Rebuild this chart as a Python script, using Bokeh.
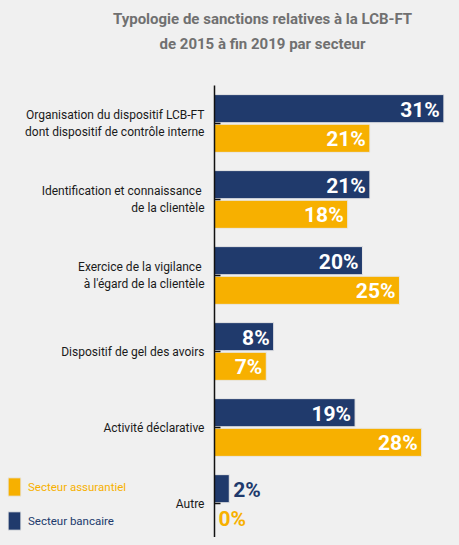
from bokeh.plotting import figure
from bokeh.models import ColumnDataSource, Range1d, FixedTicker, Label, Legend, LegendItem, LinearAxis
from bokeh.transform import dodge
from bokeh.core.properties import value
from bokeh.embed import file_html
from bokeh.resources import INLINE

# ---- data ----
categories = [
    "Organisation du dispositif LCB-FT\ndont dispositif de contrôle interne",
    "Identification et connaissance \nde la clientèle",
    "Exercice de la vigilance \nà l'égard de la clientèle",
    "Dispositif de gel des avoirs",
    "Activité déclarative",
    "Autre",
]
bancaire = [31, 21, 20, 8, 19, 2]
assurantiel = [21, 18, 25, 7, 28, 0]
series_names = ["Secteur bancaire", "Secteur assurantiel"]
title_lines = ["Typologie de sanctions relatives à la LCB-FT", "de 2015 à fin 2019 par secteur"]

# ---- style ----
NAVY = "#203a6c"
ORANGE = "#f7b000"
BG = "#f0f0f0"
FONT = "Roboto"

idx = list(range(len(categories)))
src = ColumnDataSource(dict(y=idx, banc=bancaire, assur=assurantiel))

p = figure(width=451, height=537, x_range=Range1d(-28.92, 32.03), y_range=Range1d(5.447, -1.618),
           output_backend="svg", toolbar_location=None, x_axis_location=None, y_axis_location=None,
           min_border_left=0, min_border_right=0, min_border_top=0, min_border_bottom=0)
p.background_fill_color = BG
p.border_fill_color = BG
p.outline_line_color = None
p.xgrid.visible = False
p.ygrid.visible = False

OFF = 0.195
H = 0.37
r_banc = p.hbar(y=dodge("y", -OFF), left=0, right="banc", height=H, source=src,
                fill_color=NAVY, line_color="#e8e8e8", line_width=1)
r_assur = p.hbar(y=dodge("y", OFF), left=0, right="assur", height=H, source=src,
                 fill_color=ORANGE, line_color="#e8e8e8", line_width=1)

# value labels
INSIDE_MIN = 5
def lab_src(vals, off, inside):
    ys, xs, ts = [], [], []
    for i, v in zip(idx, vals):
        if (v >= INSIDE_MIN) == inside:
            ys.append(i + off); xs.append(v); ts.append(f"{v}%")
    return ColumnDataSource(dict(x=xs, y=ys, t=ts))

for vals, off, col in [(bancaire, -OFF, NAVY), (assurantiel, OFF, ORANGE)]:
    p.text(x="x", y="y", text="t", source=lab_src(vals, off, True), text_align="right",
           text_baseline="middle", x_offset=-4, y_offset=1, text_color="white",
           text_font=value(FONT), text_font_style="bold", text_font_size="21px")
    p.text(x="x", y="y", text="t", source=lab_src(vals, off, False), text_align="left",
           text_baseline="middle", x_offset=4, y_offset=1, text_color=col,
           text_font=value(FONT), text_font_style="bold", text_font_size="21px")

# y axis placed at x = 0
ax = LinearAxis(fixed_location=0, bounds=(-0.5, 5.447))
ax.ticker = FixedTicker(ticks=idx)
ax.major_label_overrides = {i: c for i, c in zip(idx, categories)}
ax.major_tick_in = 6
ax.major_tick_out = 0
ax.minor_tick_line_color = None
ax.axis_line_width = 1.5
ax.axis_line_color = "#111111"
ax.major_tick_line_color = "#111111"
ax.major_tick_line_width = 1.5
ax.major_label_standoff = 10
ax.major_label_text_font = FONT
ax.major_label_text_font_size = "12px"
ax.major_label_text_line_height = 1.2
ax.major_label_text_color = "#1a1a1a"
p.add_layout(ax, "left")

# title
for t, yy in zip(title_lines, [-1.381, -1.052]):
    p.add_layout(Label(x=6.49, y=yy, text=t, text_align="center", text_baseline="middle",
                       text_font=FONT, text_font_style="bold", text_font_size="15px",
                       text_color="#707070"))

# legends
for name, rend, col, loc in [(series_names[1], r_assur, ORANGE, (6, 39)),
                             (series_names[0], r_banc, NAVY, (6, 5))]:
    leg = Legend(items=[LegendItem(label=name, renderers=[rend])], location=loc,
                 glyph_width=16, glyph_height=23, padding=0, margin=0, spacing=0,
                 label_standoff=6, border_line_color=None, background_fill_alpha=0,
                 label_text_color=col, label_text_font=FONT, label_text_font_size="11.5px")
    p.add_layout(leg)

html = file_html(p, INLINE, title="Typologie de sanctions LCB-FT")
html = html.replace("</head>", "<style>html, body { background-color: #f0f0f0; }</style></head>", 1)
open("out.html", "w").write(html)
